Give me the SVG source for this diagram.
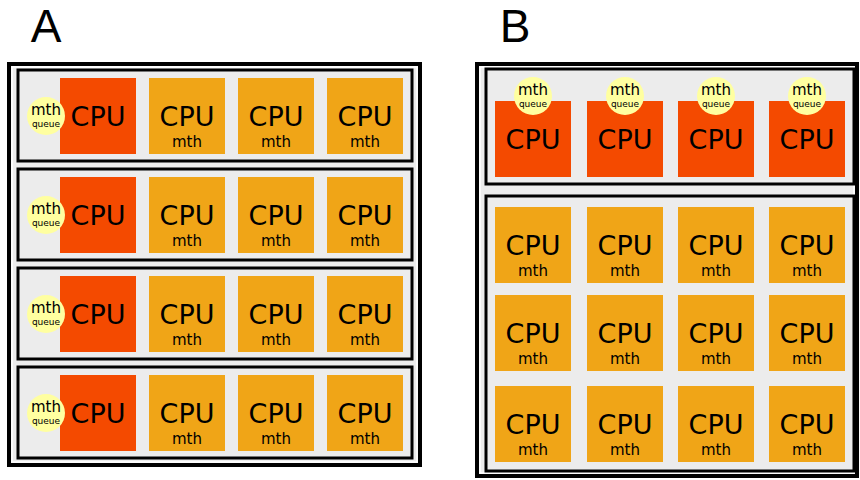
<svg xmlns="http://www.w3.org/2000/svg" width="860" height="480" viewBox="0 0 860 480">
<defs>
<style>
.outer{fill:#ececec;stroke:#000;stroke-width:4}
.hl{fill:none;stroke:#fff;stroke-width:1.5}
.box{fill:#ececec;stroke:#000;stroke-width:3}
.red{fill:#f44a00}
.org{fill:#f0a517}
.q{fill:#ffffa0}
text{font-family:"DejaVu Sans",sans-serif;fill:#000;text-anchor:middle}
.cpu{font-size:27px}
.mth{font-size:15px}
.qm{font-size:15px}
.qq{font-size:9px}
.lbl{font-family:"Liberation Sans",Arial,sans-serif;font-size:46px}
</style>
</defs>
<rect width="860" height="480" fill="#fff"/>
<text class="lbl" x="46" y="42">A</text>
<text class="lbl" x="515" y="42">B</text>

<g id="panelA">
<rect class="outer" x="9" y="64" width="411" height="401"/>
<rect class="hl" x="12" y="67" width="405" height="395"/>
</g>
<g id="panelB">
<rect class="outer" x="477" y="64" width="380" height="412"/>
<rect class="hl" x="480" y="67" width="374" height="406"/>
</g>

<g id="A-row1">
<rect class="box" x="18" y="70" width="394" height="91"/>
<rect class="red" x="60" y="78" width="76" height="76"/><text class="cpu" x="98" y="126">CPU</text>
<circle class="q" cx="46" cy="116" r="19"/><text class="qm" x="46" y="115">mth</text><text class="qq" x="46" y="127">queue</text>
<rect class="org" x="149" y="78" width="76" height="76"/><text class="cpu" x="187" y="126">CPU</text><text class="mth" x="187" y="147">mth</text>
<rect class="org" x="238" y="78" width="76" height="76"/><text class="cpu" x="276" y="126">CPU</text><text class="mth" x="276" y="147">mth</text>
<rect class="org" x="327" y="78" width="76" height="76"/><text class="cpu" x="365" y="126">CPU</text><text class="mth" x="365" y="147">mth</text>
</g>
<g id="A-row2">
<rect class="box" x="18" y="169" width="394" height="91"/>
<rect class="red" x="60" y="177" width="76" height="76"/><text class="cpu" x="98" y="225">CPU</text>
<circle class="q" cx="46" cy="215" r="19"/><text class="qm" x="46" y="214">mth</text><text class="qq" x="46" y="226">queue</text>
<rect class="org" x="149" y="177" width="76" height="76"/><text class="cpu" x="187" y="225">CPU</text><text class="mth" x="187" y="246">mth</text>
<rect class="org" x="238" y="177" width="76" height="76"/><text class="cpu" x="276" y="225">CPU</text><text class="mth" x="276" y="246">mth</text>
<rect class="org" x="327" y="177" width="76" height="76"/><text class="cpu" x="365" y="225">CPU</text><text class="mth" x="365" y="246">mth</text>
</g>
<g id="A-row3">
<rect class="box" x="18" y="268" width="394" height="91"/>
<rect class="red" x="60" y="276" width="76" height="76"/><text class="cpu" x="98" y="324">CPU</text>
<circle class="q" cx="46" cy="314" r="19"/><text class="qm" x="46" y="313">mth</text><text class="qq" x="46" y="325">queue</text>
<rect class="org" x="149" y="276" width="76" height="76"/><text class="cpu" x="187" y="324">CPU</text><text class="mth" x="187" y="345">mth</text>
<rect class="org" x="238" y="276" width="76" height="76"/><text class="cpu" x="276" y="324">CPU</text><text class="mth" x="276" y="345">mth</text>
<rect class="org" x="327" y="276" width="76" height="76"/><text class="cpu" x="365" y="324">CPU</text><text class="mth" x="365" y="345">mth</text>
</g>
<g id="A-row4">
<rect class="box" x="18" y="367" width="394" height="91"/>
<rect class="red" x="60" y="375" width="76" height="76"/><text class="cpu" x="98" y="423">CPU</text>
<circle class="q" cx="46" cy="413" r="19"/><text class="qm" x="46" y="412">mth</text><text class="qq" x="46" y="424">queue</text>
<rect class="org" x="149" y="375" width="76" height="76"/><text class="cpu" x="187" y="423">CPU</text><text class="mth" x="187" y="444">mth</text>
<rect class="org" x="238" y="375" width="76" height="76"/><text class="cpu" x="276" y="423">CPU</text><text class="mth" x="276" y="444">mth</text>
<rect class="org" x="327" y="375" width="76" height="76"/><text class="cpu" x="365" y="423">CPU</text><text class="mth" x="365" y="444">mth</text>
</g>

<g id="B-top">
<rect class="box" x="486" y="69" width="368" height="115"/>
<rect class="red" x="495" y="101" width="76" height="76"/><text class="cpu" x="533" y="149">CPU</text>
<circle class="q" cx="533" cy="96" r="19"/><text class="qm" x="533" y="95">mth</text><text class="qq" x="533" y="107">queue</text>
<rect class="red" x="587" y="101" width="76" height="76"/><text class="cpu" x="625" y="149">CPU</text>
<circle class="q" cx="625" cy="96" r="19"/><text class="qm" x="625" y="95">mth</text><text class="qq" x="625" y="107">queue</text>
<rect class="red" x="678" y="101" width="76" height="76"/><text class="cpu" x="716" y="149">CPU</text>
<circle class="q" cx="716" cy="96" r="19"/><text class="qm" x="716" y="95">mth</text><text class="qq" x="716" y="107">queue</text>
<rect class="red" x="769" y="101" width="76" height="76"/><text class="cpu" x="807" y="149">CPU</text>
<circle class="q" cx="807" cy="96" r="19"/><text class="qm" x="807" y="95">mth</text><text class="qq" x="807" y="107">queue</text>
</g>

<g id="B-bottom">
<rect class="box" x="486" y="196" width="368" height="275"/>
<rect class="org" x="495" y="207" width="76" height="76"/><text class="cpu" x="533" y="255">CPU</text><text class="mth" x="533" y="276">mth</text>
<rect class="org" x="587" y="207" width="76" height="76"/><text class="cpu" x="625" y="255">CPU</text><text class="mth" x="625" y="276">mth</text>
<rect class="org" x="678" y="207" width="76" height="76"/><text class="cpu" x="716" y="255">CPU</text><text class="mth" x="716" y="276">mth</text>
<rect class="org" x="769" y="207" width="76" height="76"/><text class="cpu" x="807" y="255">CPU</text><text class="mth" x="807" y="276">mth</text>
<rect class="org" x="495" y="295" width="76" height="76"/><text class="cpu" x="533" y="343">CPU</text><text class="mth" x="533" y="364">mth</text>
<rect class="org" x="587" y="295" width="76" height="76"/><text class="cpu" x="625" y="343">CPU</text><text class="mth" x="625" y="364">mth</text>
<rect class="org" x="678" y="295" width="76" height="76"/><text class="cpu" x="716" y="343">CPU</text><text class="mth" x="716" y="364">mth</text>
<rect class="org" x="769" y="295" width="76" height="76"/><text class="cpu" x="807" y="343">CPU</text><text class="mth" x="807" y="364">mth</text>
<rect class="org" x="495" y="386" width="76" height="76"/><text class="cpu" x="533" y="434">CPU</text><text class="mth" x="533" y="455">mth</text>
<rect class="org" x="587" y="386" width="76" height="76"/><text class="cpu" x="625" y="434">CPU</text><text class="mth" x="625" y="455">mth</text>
<rect class="org" x="678" y="386" width="76" height="76"/><text class="cpu" x="716" y="434">CPU</text><text class="mth" x="716" y="455">mth</text>
<rect class="org" x="769" y="386" width="76" height="76"/><text class="cpu" x="807" y="434">CPU</text><text class="mth" x="807" y="455">mth</text>
</g>
</svg>
